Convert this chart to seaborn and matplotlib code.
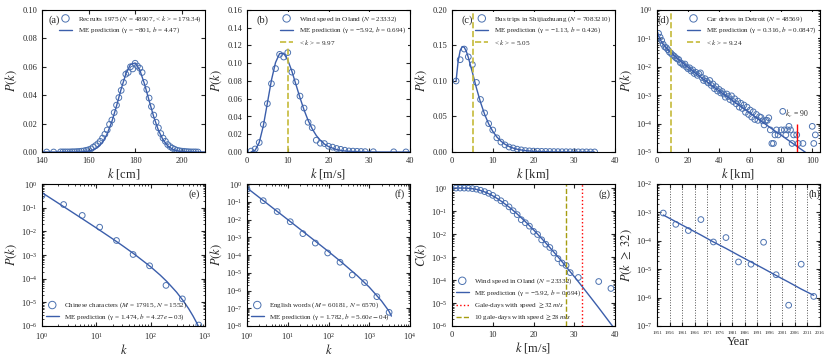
import numpy as np
import pandas as pd
import seaborn as sns
import matplotlib.pyplot as plt
from matplotlib.ticker import LogLocator, NullFormatter, MultipleLocator

# ---- data ----
# (a) recruits height
a_k = [142, 145] + list(range(148, 208))
a_p = [0.0000, 0.0000,
       0.0001, 0.0001, 0.0001, 0.0001, 0.0001, 0.0002, 0.0002, 0.0003, 0.0004, 0.0006,
       0.0008, 0.0012, 0.0016, 0.0022, 0.0034, 0.0045, 0.0058, 0.0075, 0.0098, 0.0125,
       0.0155, 0.0195, 0.0225, 0.0278, 0.0330, 0.0383, 0.0434, 0.0490, 0.0548, 0.0560,
       0.0600, 0.0585, 0.0625, 0.0605, 0.0590, 0.0560, 0.0490, 0.0440, 0.0380, 0.0320,
       0.0260, 0.0210, 0.0170, 0.0130, 0.0098, 0.0075, 0.0052, 0.0038, 0.0027, 0.0019,
       0.0012, 0.0009, 0.0006, 0.0005, 0.0003, 0.0002, 0.0001, 0.0001, 0.0001, 0.0000]
a_fit_k = list(range(140, 212, 2))
a_fit_p = [0, 0, 0, 0, 0, 0, 0, 0.00002, 0.00007, 0.0002, 0.0006, 0.0015, 0.0034, 0.0069,
           0.0128, 0.0214, 0.0324, 0.0444, 0.0550, 0.0617, 0.0627, 0.0577, 0.0480, 0.0362,
           0.0247, 0.0153, 0.0085, 0.0043, 0.0020, 0.0008, 0.0003, 0.0001, 0.00004, 0, 0, 0]

# (b) wind speed in Oland
b_k = list(range(1, 30)) + [31, 36, 39]
b_p = [0.001, 0.0034, 0.0107, 0.031, 0.0545, 0.077, 0.094, 0.110, 0.107, 0.112,
       0.090, 0.079, 0.063, 0.0495, 0.0335, 0.0274, 0.0133, 0.0099, 0.0095, 0.0065,
       0.0055, 0.0040, 0.0030, 0.0020, 0.0012, 0.0010, 0.0008, 0.0006, 0.0004,
       0.0003, 0.0002, 0.0001]
b_fit_k = list(range(1, 21)) + list(range(22, 42, 2))
b_fit_p = [6.4e-5, 0.00195, 0.0107, 0.0294, 0.0551, 0.081, 0.1008, 0.1109, 0.1113, 0.1037,
           0.0912, 0.0762, 0.0612, 0.0474, 0.0356, 0.0261, 0.0186, 0.0131, 0.0090, 0.0061,
           0.0027, 0.0011, 0.00045, 0.00017, 6.5e-5, 2.4e-5, 8.5e-6, 3.0e-6, 1.0e-6, 3.4e-7]
b_mean = 9.97

# (c) bus trips
c_k = list(range(1, 36))
c_p = [0.100, 0.130, 0.145, 0.134, 0.123, 0.098, 0.074, 0.055, 0.040, 0.031,
       0.020, 0.014, 0.010, 0.007, 0.0057, 0.004, 0.003, 0.002, 0.0016, 0.0013,
       0.0011, 0.0009, 0.0008, 0.0007, 0.0006, 0.0005, 0.0004, 0.0004, 0.0003, 0.0003,
       0.0002, 0.0002, 0.0002, 0.0001, 0.0001]
c_fit_k = [1, 1.5, 2, 2.5, 3, 3.5, 4, 5, 6, 7, 8, 9, 10, 11, 12, 13, 14, 15, 16, 18, 20, 25, 30, 35]
c_fit_p = [0.100, 0.1277, 0.1428, 0.1485, 0.1475, 0.142, 0.1333, 0.1121, 0.090, 0.070,
           0.0531, 0.0396, 0.0292, 0.0212, 0.0153, 0.0109, 0.0078, 0.0055, 0.0038, 0.0019,
           0.0009, 0.00014, 0.00002, 0.000003]
c_mean = 5.05

# (d) car drives in Detroit
d_k = list(range(1, 73)) + [73, 74, 75, 76, 77, 78, 80, 81, 82, 83, 84, 85, 86, 87, 88,
                            90, 91, 94, 100, 101, 102]
d_p = [0.150, 0.110, 0.085, 0.062, 0.050, 0.047, 0.040, 0.033, 0.030, 0.026,
       0.024, 0.021, 0.019, 0.018, 0.014, 0.013, 0.0115, 0.0125, 0.0098, 0.0085,
       0.0092, 0.0071, 0.0078, 0.0058, 0.0064, 0.0050, 0.0056, 0.0061, 0.0042, 0.0033,
       0.0038, 0.0031, 0.0027, 0.0033, 0.0022, 0.0025, 0.0017, 0.0020, 0.0014, 0.0016,
       0.0012, 0.00135, 0.0011, 0.00085, 0.0011, 0.0009, 0.0007, 0.00095, 0.0006, 0.00075,
       0.0005, 0.00062, 0.00038, 0.00052, 0.00034, 0.00045, 0.00025, 0.00038, 0.00021, 0.00030,
       0.00017, 0.00026, 0.00014, 0.00021, 0.00013, 0.000175, 0.000165, 0.000125, 0.00009, 0.00013,
       0.00013, 0.00016,
       6e-5, 2e-5, 2e-5, 4e-5, 6e-5, 4e-5, 6e-5, 2.7e-4, 6e-5, 4e-5, 6e-5, 8e-5, 6e-5, 2e-5,
       4e-5, 4e-5, 2e-5, 2e-5, 8e-5, 2e-5, 4e-5]
d_fit_k = [0.5, 1, 2, 3, 4, 5, 6, 8, 10, 12, 14, 16, 18, 20, 25, 30, 35, 40, 45, 50,
           55, 60, 65, 70, 75, 80, 85, 90, 95, 100]
d_fit_p = [0.161, 0.124, 0.0918, 0.0742, 0.0622, 0.0533, 0.0462, 0.0356, 0.0280, 0.0223,
           0.0180, 0.0145, 0.0118, 0.00966, 0.00589, 0.00364, 0.00227, 0.00143, 0.00090, 0.00057,
           0.00036, 0.00023, 0.000147, 9.4e-5, 6.0e-5, 3.9e-5, 2.5e-5, 1.6e-5, 1.03e-5, 6.6e-6]
d_mean = 9.24
d_kc = 90
d_kc_top = 1.0e-4

# (e) Chinese characters
e_k = [1, 2.5, 5.5, 11.5, 23.5, 47.5, 95.5, 191.5, 383.5, 767.5]
e_p = [0.32, 0.136, 0.047, 0.015, 0.0041, 0.00105, 3.5e-4, 5.2e-5, 1.4e-5, 1.1e-6]
e_fit_k = [1, 2, 3, 5, 10, 20, 30, 50, 100, 150, 200, 300, 400, 500, 600, 700, 800]
e_fit_p = [0.43, 0.154, 0.0844, 0.0394, 0.0139, 0.00479, 0.00252, 0.00109, 3.17e-4, 1.41e-4,
           7.45e-5, 2.68e-5, 1.14e-5, 5.4e-6, 2.68e-6, 1.39e-6, 7.5e-7]

# (f) English words
f_k = [1, 2.5, 5.5, 11.5, 23.5, 47.5, 95.5, 191.5, 383.5, 767.5, 1535.5, 3071.5]
f_p = [0.52, 0.115, 0.028, 0.0075, 0.0016, 4.7e-4, 1.3e-4, 3.9e-5, 7.5e-6, 2.8e-6, 4.5e-7, 5.9e-8]
f_fit_k = [1, 2, 5, 10, 20, 50, 100, 200, 500, 1000, 2000, 3000, 3500]
f_fit_p = [0.60, 0.175, 0.0341, 0.0099, 0.00286, 5.5e-4, 1.56e-4, 4.28e-5, 7.06e-6,
           1.55e-6, 2.58e-7, 7.2e-8, 3.6e-8]

# (g) complementary cumulative of the wind speed
g_k = list(range(1, 30)) + [31, 36, 39]
g_c = [1.0, 0.999, 0.995, 0.983, 0.950, 0.893, 0.800, 0.700, 0.590, 0.480,
       0.370, 0.280, 0.215, 0.152, 0.103, 0.070, 0.042, 0.031, 0.022, 0.013,
       0.0095, 0.0056, 0.0036, 0.0026, 0.0015, 0.00085, 0.00055, 0.00043, 0.00021,
       0.000129, 8.6e-5, 4.3e-5]
g_fit_k = list(range(0, 31)) + [32, 34, 36, 38, 40]
g_fit_c = [1.0, 1.0, 0.9995, 0.995, 0.977, 0.94, 0.872, 0.785, 0.679, 0.568, 0.459,
           0.36, 0.274, 0.203, 0.149, 0.106, 0.0745, 0.051, 0.0347, 0.0232, 0.0153,
           0.0099, 0.0064, 0.0041, 0.0026, 0.00163, 0.00102, 0.00063, 0.00038, 0.00023,
           0.000141, 5.06e-5, 1.78e-5, 6.2e-6, 2.1e-6, 7.1e-7]
g_gale = 32
g_ten = 28

# (h) gale probability per 5-year period
h_year = [1953.5, 1958.5, 1963.5, 1968.5, 1973.5, 1978.5, 1983.5, 1988.5, 1993.5,
          1998.5, 2003.5, 2008.5, 2013.5]
h_p = [9.5e-4, 3.8e-4, 2.3e-4, 5.6e-4, 9.1e-5, 1.3e-4, 1.8e-5, 1.5e-5, 8.9e-5,
       6.4e-6, 5.4e-7, 1.5e-5, 1.1e-6]
h_fit = [8.1e-4, 4.7e-4, 2.75e-4, 1.6e-4, 9.1e-5, 5.4e-5, 3.1e-5, 1.8e-5, 1.05e-5,
         6.0e-6, 3.5e-6, 2.0e-6, 1.2e-6]
h_ticks = list(range(1951, 2017, 5))

MARK = "#4C72B0"
LINE = "#3B5EAB"
OLIVE = "#C5BA3A"

sns.set_style("ticks")
plt.rcParams.update({
    "font.family": ["Liberation Serif", "DejaVu Serif"],
    "mathtext.fontset": "stix",
    "xtick.direction": "in", "ytick.direction": "in",
    "xtick.top": True, "ytick.right": True,
    "xtick.labelsize": 6, "ytick.labelsize": 6,
    "xtick.major.size": 3, "ytick.major.size": 3,
    "xtick.minor.size": 1.5, "ytick.minor.size": 1.5,
    "axes.labelsize": 9, "axes.linewidth": 0.8,
    "axes.edgecolor": "black",
})

fig = plt.figure(figsize=(8.3, 3.56), dpi=100)
W, H = 830, 356
lefts = [42, 247, 452, 657]
tops = [10, 184]
axes = []
for r in range(2):
    for c in range(4):
        axes.append(fig.add_axes([lefts[c] / W, 1 - (tops[r] + 142) / H, 163 / W, 142 / H]))
ax_a, ax_b, ax_c, ax_d, ax_e, ax_f, ax_g, ax_h = axes


def pts(ax, x, y, label):
    sns.scatterplot(x=x, y=y, ax=ax, marker="o", s=17, facecolor="none",
                    edgecolor=MARK, linewidth=0.7, label=label, legend=False)


def fit(ax, x, y, label, **kw):
    sns.lineplot(x=x, y=y, ax=ax, color=LINE, lw=1.0, label=label, legend=False, **kw)


def leg(ax, loc, opaque=False):
    lg = ax.legend(loc=loc, fontsize=5.1, frameon=opaque, handlelength=1.8,
                   handletextpad=0.8, labelspacing=0.3, borderaxespad=0.35,
                   scatterpoints=1, borderpad=0.2, markerscale=1.3)
    if opaque:
        lg.get_frame().set_edgecolor("none")
        lg.get_frame().set_facecolor("white")
        lg.get_frame().set_alpha(1)


def logy(ax):
    ax.set_yscale("log")
    ax.yaxis.set_major_locator(LogLocator(base=10, numticks=20))
    ax.yaxis.set_minor_locator(LogLocator(base=10, subs=np.arange(2, 10), numticks=20))
    ax.yaxis.set_minor_formatter(NullFormatter())


def logx(ax):
    ax.set_xscale("log")
    ax.xaxis.set_major_locator(LogLocator(base=10, numticks=20))
    ax.xaxis.set_minor_locator(LogLocator(base=10, subs=np.arange(2, 10), numticks=20))
    ax.xaxis.set_minor_formatter(NullFormatter())


# (a)
pts(ax_a, a_k, a_p, "Recruits 1975 ($N$ = 48907, < $k$ > = 179.34)")
fit(ax_a, a_fit_k, a_fit_p, "ME prediction (γ = −801, $b$ = 4.47)")
ax_a.set_xlim(140, 210)
ax_a.set_ylim(0, 0.10)
ax_a.yaxis.set_major_locator(MultipleLocator(0.02))
ax_a.set_xlabel("$k$ [cm]", labelpad=1)
ax_a.set_ylabel("$P(k)$", labelpad=2)
leg(ax_a, "upper right")
ax_a.text(0.04, 0.93, "(a)", transform=ax_a.transAxes, fontsize=7.5, va="center")

# (b)
pts(ax_b, b_k, b_p, "Wind speed in Oland ($N$ = 23332)")
fit(ax_b, b_fit_k, b_fit_p, "ME prediction (γ = −5.92, $b$ = 0.694)")
ax_b.axvline(b_mean, color=OLIVE, ls="--", lw=1.2, label="< $k$ > = 9.97")
ax_b.set_xlim(0, 40)
ax_b.set_ylim(0, 0.16)
ax_b.yaxis.set_major_locator(MultipleLocator(0.02))
ax_b.set_xlabel("$k$ [m/s]", labelpad=1)
ax_b.set_ylabel("$P(k)$", labelpad=2)
leg(ax_b, "upper right", opaque=True)
ax_b.text(0.06, 0.93, "(b)", transform=ax_b.transAxes, fontsize=7.5, va="center")

# (c)
pts(ax_c, c_k, c_p, "Bus trips in Shijiazhuang ($N$ = 7083210)")
fit(ax_c, c_fit_k, c_fit_p, "ME prediction (γ = −1.13, $b$ = 0.426)")
ax_c.axvline(c_mean, color=OLIVE, ls="--", lw=1.2, label="< $k$ > = 5.05")
ax_c.set_xlim(0, 40)
ax_c.set_ylim(0, 0.20)
ax_c.yaxis.set_major_locator(MultipleLocator(0.05))
ax_c.set_xlabel("$k$ [km]", labelpad=1)
ax_c.set_ylabel("$P(k)$", labelpad=2)
leg(ax_c, "upper right", opaque=True)
ax_c.text(0.06, 0.93, "(c)", transform=ax_c.transAxes, fontsize=7.5, va="center")

# (d)
pts(ax_d, d_k, d_p, "Car drives in Detroit ($N$ = 48569)")
fit(ax_d, d_fit_k, d_fit_p, "ME prediction (γ = 0.316, $b$ = 0.0847)")
ax_d.axvline(d_mean, color=OLIVE, ls="--", lw=1.2, label="< $k$ > = 9.24")
ax_d.vlines(d_kc, 1e-5, d_kc_top, color="red", lw=1.0)
ax_d.text(d_kc, d_kc_top * 1.3, "$k_c$ = 90", fontsize=5.5, ha="center", va="bottom")
logy(ax_d)
ax_d.set_xlim(0, 105)
ax_d.set_ylim(1e-5, 1)
ax_d.xaxis.set_major_locator(MultipleLocator(20))
ax_d.set_xlabel("$k$ [km]", labelpad=1)
ax_d.set_ylabel("$P(k)$", labelpad=1)
leg(ax_d, "upper right", opaque=True)
ax_d.text(0.0, 0.93, "(d)", transform=ax_d.transAxes, fontsize=7.5, va="center")

# (e)
pts(ax_e, e_k, e_p, "Chinese characters ($M$ = 17915, $N$ = 1552)")
fit(ax_e, e_fit_k, e_fit_p, "ME prediction (γ = 1.474, $b$ = 4.27$e-$03)")
logx(ax_e)
logy(ax_e)
ax_e.set_xlim(1, 1000)
ax_e.set_ylim(1e-6, 1)
ax_e.set_xlabel("$k$", labelpad=1)
ax_e.set_ylabel("$P(k)$", labelpad=1)
leg(ax_e, "lower left")
ax_e.text(0.97, 0.93, "(e)", transform=ax_e.transAxes, fontsize=7.5, va="center", ha="right")

# (f)
pts(ax_f, f_k, f_p, "English words ($M$ = 60181, $N$ = 6570)")
fit(ax_f, f_fit_k, f_fit_p, "ME prediction (γ = 1.782, $b$ = 5.60$e-$04)")
logx(ax_f)
logy(ax_f)
ax_f.set_xlim(1, 1e4)
ax_f.set_ylim(1e-8, 1)
ax_f.set_xlabel("$k$", labelpad=1)
ax_f.set_ylabel("$P(k)$", labelpad=1)
leg(ax_f, "lower left")
ax_f.text(0.97, 0.93, "(f)", transform=ax_f.transAxes, fontsize=7.5, va="center", ha="right")

# (g)
pts(ax_g, g_k, g_c, "Wind speed in Oland ($N$ = 23332)")
fit(ax_g, g_fit_k, g_fit_c, "ME prediction (γ = −5.92, $b$ = 0.694)")
ax_g.axvline(g_gale, color="red", ls=":", lw=1.0, label="Gale-days with speed $\\geq 32\\,m/s$")
ax_g.axvline(g_ten, color="#A59D10", ls="--", lw=1.0, label="10 gale-days with speed $\\geq 28\\,m/s$")
logy(ax_g)
ax_g.set_xlim(0, 40)
ax_g.set_ylim(1e-6, 1.5)
ax_g.set_xlabel("$k$ [m/s]", labelpad=1)
ax_g.set_ylabel("$C(k)$", labelpad=1)
leg(ax_g, "lower left")
ax_g.text(0.97, 0.93, "(g)", transform=ax_g.transAxes, fontsize=7.5, va="center", ha="right")

# (h)
pts(ax_h, h_year, h_p, None)
fit(ax_h, h_year, h_fit, None)
logy(ax_h)
ax_h.set_xlim(h_ticks[0], h_ticks[-1])
ax_h.set_ylim(1e-7, 1e-2)
ax_h.set_xticks(h_ticks)
ax_h.tick_params(axis="x", labelsize=3.5)
ax_h.grid(axis="x", ls=":", color="#555555", lw=0.7)
ax_h.set_xlabel("Year", labelpad=1)
ax_h.set_ylabel("$P(k\\ \\geq\\ 32)$", labelpad=1)
ax_h.text(1.0, 0.93, "(h)", transform=ax_h.transAxes, fontsize=7.5, va="center", ha="right")

fig.savefig("out.png", dpi=100)
